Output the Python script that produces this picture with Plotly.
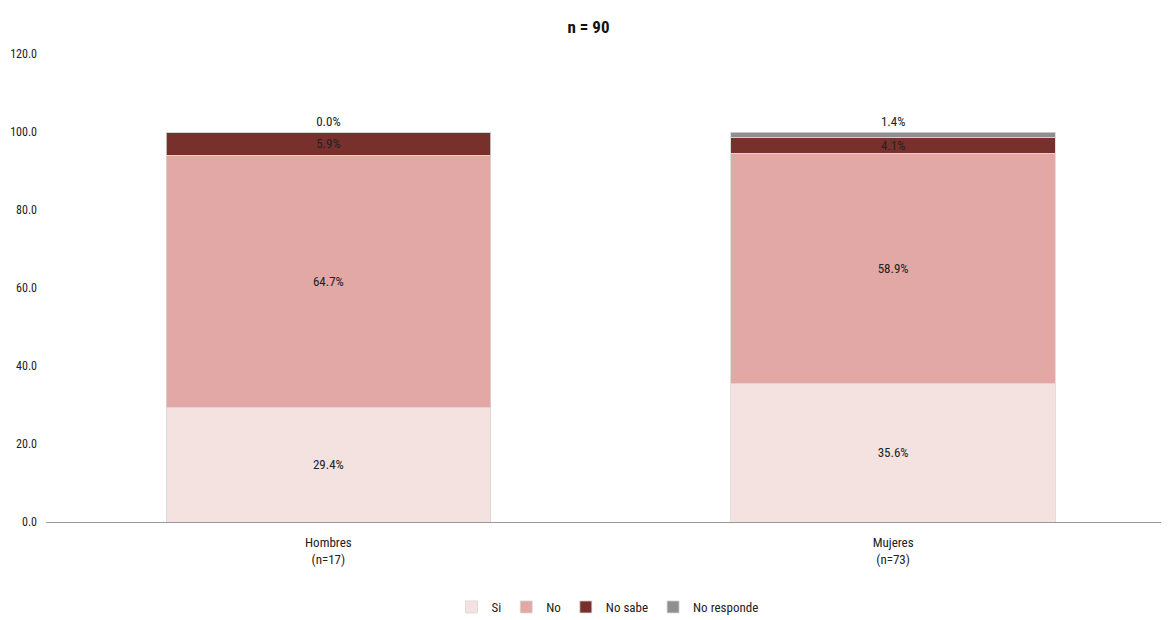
import plotly.graph_objects as go

categories = ["Hombres<br>(n=17)", "Mujeres<br>(n=73)"]
series_names = ["Si", "No", "No sabe", "No responde"]
si = [29.4, 35.6]
no = [64.7, 58.9]
no_sabe = [5.9, 4.1]
no_responde = [0.0, 1.4]
colors = ["#F4E2E1", "#E1A8A6", "#78302D", "#8F8F8F"]

FONT = "Roboto Condensed, sans-serif"
W, H = 1161, 612  # page body has an 8px margin

fig = go.Figure()
for name, vals, col in zip(series_names, [si, no, no_sabe, no_responde], colors):
    outside = name == "No responde"
    fig.add_trace(go.Bar(
        name=name, x=categories, y=vals,
        marker=dict(color=col, line=dict(color="#D6D6D6", width=0.8)),
        width=0.575,
        text=[f"{v:.1f}%" for v in vals],
        textposition="outside" if outside else "inside",
        insidetextanchor="middle",
        textfont=dict(family=FONT, size=13, color="#222222"),
        cliponaxis=False,
    ))

fig.update_layout(
    barmode="stack",
    width=W, height=H,
    margin=dict(l=38, r=0, t=46, b=98, autoexpand=False),
    paper_bgcolor="white", plot_bgcolor="white",
    font=dict(family=FONT, size=13, color="#222222"),
    title=dict(text="<b>n = 90</b>", x=0.5, xanchor="center", y=1 - 19 / H, yanchor="middle",
               font=dict(family=FONT, size=17, color="#111111")),
    legend=dict(orientation="h", x=0.5, xanchor="center", y=-85 / 468, yanchor="middle",
                font=dict(family=FONT, size=13), itemwidth=30, traceorder="normal"),
    uniformtext=dict(minsize=13, mode="show"),
)
fig.update_xaxes(range=[-0.5, 1.4885], showline=True, linecolor="#9A9A9A", linewidth=1,
                 ticks="", showgrid=False, automargin=False, ticklabelstandoff=8,
                 tickfont=dict(family=FONT, size=13))
fig.update_yaxes(range=[0, 120], dtick=20, tickformat=".1f", showgrid=False, zeroline=False,
                 showline=False, ticks="", ticklabelstandoff=8, automargin=False,
                 tickfont=dict(family=FONT, size=12))

fig.write_html("out.html")
